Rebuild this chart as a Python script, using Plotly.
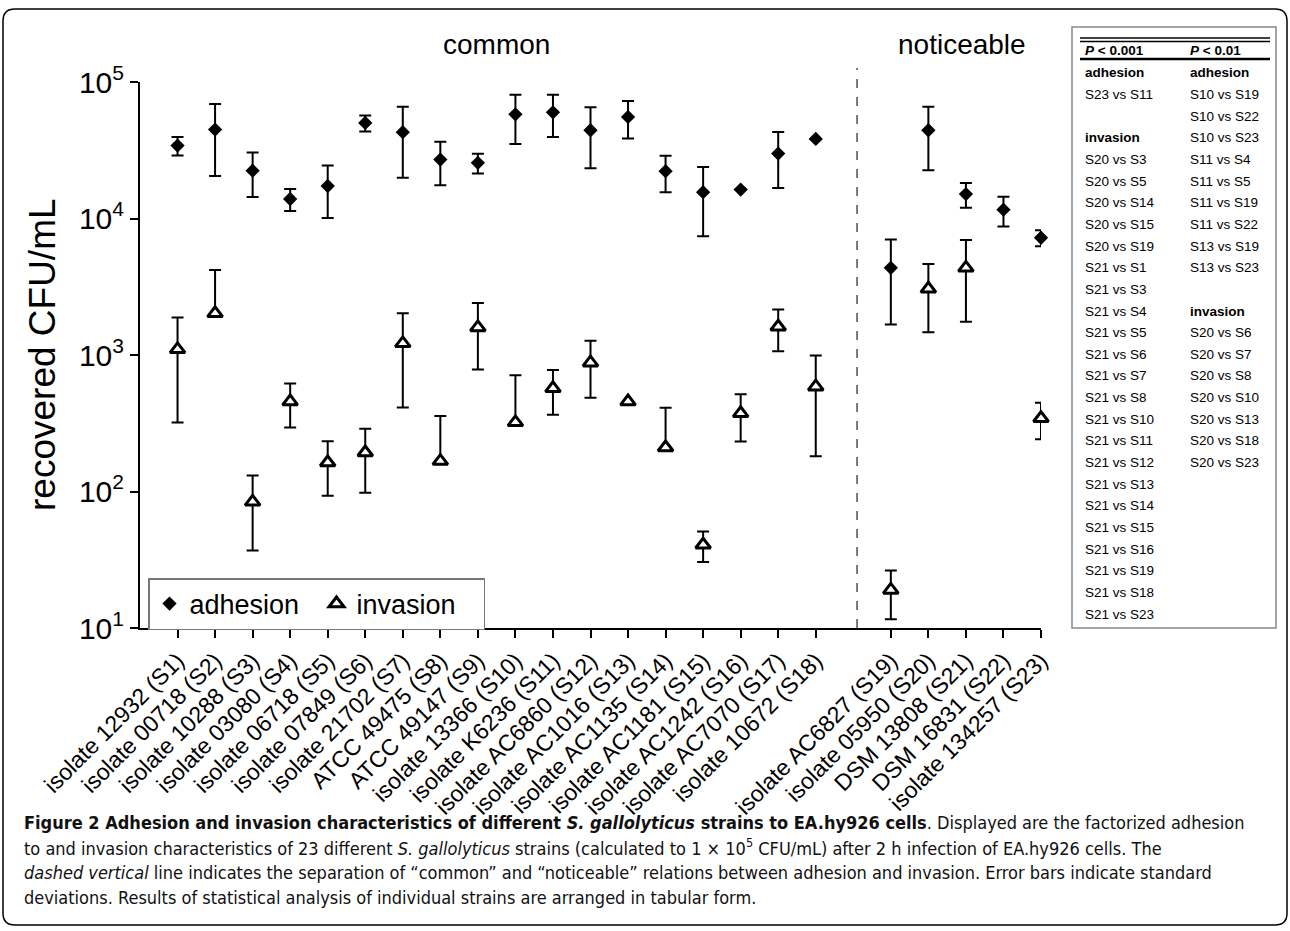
import plotly.graph_objects as go

W, H = 1290, 931

strains = ["isolate 12932 (S1)", "isolate 00718 (S2)", "isolate 10288 (S3)", "isolate 03080 (S4)",
           "isolate 06718 (S5)", "isolate 07849 (S6)", "isolate 21702 (S7)", "ATCC 49475 (S8)",
           "ATCC 49147 (S9)", "isolate 13366 (S10)", "isolate K6236 (S11)", "isolate AC6860 (S12)",
           "isolate AC1016 (S13)", "isolate AC1135 (S14)", "isolate AC1181 (S15)", "isolate AC1242 (S16)",
           "isolate AC7070 (S17)", "isolate 10672 (S18)",
           "isolate AC6827 (S19)", "isolate 05950 (S20)", "DSM 13808 (S21)", "DSM 16831 (S22)",
           "isolate 134257 (S23)"]
group = ["common"] * 18 + ["noticeable"] * 5

adhesion_mean = [34200, 44800, 22400, 13900, 17300, 50100, 42900, 27000, 25600, 58000, 60000, 44300,
                 55500, 22200, 15600, 16300, 29900, 38300, 4350, 44300, 15100, 11600, 7230]
adhesion_sd = [5300, 24300, 8000, 2550, 7200, 6800, 23000, 9500, 4200, 22800, 20500, 21000,
               17000, 6600, 8200, 0, 13200, 0, 2680, 21700, 3100, 2850, 980]

invasion_mean = [1100, 2020, 84, 456, 163, 193, 1217, 167, 1592, 321, 570, 879,
                 456, 210, 40.7, 374, 1611, 586, 19.0, 3055, 4350, None, 344]
invasion_sd = [780, 2180, 47, 162, 70, 95, 805, 191, 810, 389, 205, 393,
               0, 200, 10.3, 142, 547, 405, 7.4, 1590, 2600, None, 103]

ytick_vals = [10, 100, 1000, 10000, 100000]
ytick_text = ["10<sup>1</sup>", "10<sup>2</sup>", "10<sup>3</sup>", "10<sup>4</sup>", "10<sup>5</sup>"]

p001_rows = ["<b>adhesion</b>", "S23 vs S11", "", "<b>invasion</b>", "S20 vs S3", "S20 vs S5", "S20 vs S14",
             "S20 vs S15", "S20 vs S19", "S21 vs S1", "S21 vs S3", "S21 vs S4", "S21 vs S5", "S21 vs S6",
             "S21 vs S7", "S21 vs S8", "S21 vs S10", "S21 vs S11", "S21 vs S12", "S21 vs S13", "S21 vs S14",
             "S21 vs S15", "S21 vs S16", "S21 vs S19", "S21 vs S18", "S21 vs S23"]
p01_rows = ["<b>adhesion</b>", "S10 vs S19", "S10 vs S22", "S10 vs S23", "S11 vs S4", "S11 vs S5",
            "S11 vs S19", "S11 vs S22", "S13 vs S19", "S13 vs S23", "", "<b>invasion</b>", "S20 vs S6",
            "S20 vs S7", "S20 vs S8", "S20 vs S10", "S20 vs S13", "S20 vs S18", "S20 vs S23"]

caption_lines = [
    "<b>Figure 2 Adhesion and invasion characteristics of different <i>S. gallolyticus</i> strains to EA.hy926 cells</b>. Displayed are the factorized adhesion",
    "to and invasion characteristics of 23 different <i>S. gallolyticus</i> strains (calculated to 1 × 10<sup>5</sup> CFU/mL) after 2 h infection of EA.hy926 cells. The",
    "<i>dashed vertical</i> line indicates the separation of “common” and “noticeable” relations between adhesion and invasion. Error bars indicate standard",
    "deviations. Results of statistical analysis of individual strains are arranged in tabular form.",
]

# x positions: common strains consecutive, one empty slot before the noticeable group
xpos = []
pos = 0
for i, g in enumerate(group):
    if i > 0 and g != group[i - 1]:
        pos += 1
    xpos.append(pos)
    pos += 1
sep_x = (xpos[17] + xpos[18]) / 2 + 0.1


def px(x):
    return x / W


def py(y):
    return 1 - y / H


def lower(m, s):
    if m is None or s is None:
        return None
    return s if m - s > 10 else 0


FONT = "Liberation Sans, Arial, Helvetica, sans-serif"

fig = go.Figure()
fig.add_trace(go.Scatter(
    x=xpos, y=adhesion_mean, mode="markers", name="adhesion", cliponaxis=False,
    marker=dict(symbol="diamond", size=11, color="black"),
    error_y=dict(type="data", symmetric=False, array=adhesion_sd,
                 arrayminus=[lower(m, s) for m, s in zip(adhesion_mean, adhesion_sd)],
                 color="black", thickness=2, width=6),
))
fig.add_trace(go.Scatter(
    x=xpos, y=invasion_mean, mode="markers", name="invasion", cliponaxis=False,
    marker=dict(symbol="triangle-up", size=13, color="white", line=dict(color="black", width=3)),
    error_y=dict(type="data", symmetric=False, array=invasion_sd,
                 arrayminus=[lower(m, s) for m, s in zip(invasion_mean, invasion_sd)],
                 color="black", thickness=2, width=6),
))

fig.update_layout(
    width=W, height=H, margin=dict(l=0, r=0, t=0, b=0),
    paper_bgcolor="white", plot_bgcolor="white",
    font=dict(family=FONT, color="black"),
    showlegend=True,
    legend=dict(orientation="h", x=px(148), y=py(578), xanchor="left", yanchor="top",
                bordercolor="#777", borderwidth=1.5, bgcolor="white",
                font=dict(size=27, family=FONT), itemwidth=30, entrywidth=122),
    xaxis=dict(domain=[px(140), px(1041)], range=[-1, xpos[-1]], tickvals=xpos, ticktext=strains,
               tickangle=-45, ticks="outside", ticklen=8, tickwidth=1.5, tickcolor="black",
               showline=True, linecolor="black", linewidth=2, showgrid=False, zeroline=False,
               tickfont=dict(size=23, family=FONT), automargin=False, fixedrange=True),
    yaxis=dict(type="log", domain=[py(628), py(82)], range=[1, 5], tickvals=ytick_vals,
               ticktext=ytick_text, ticks="outside", ticklen=8, tickwidth=1.5, tickcolor="black",
               showline=True, linecolor="black", linewidth=2, showgrid=False, zeroline=False,
               tickfont=dict(size=30, family=FONT), automargin=False, fixedrange=True),
)

# dashed separator
fig.add_shape(type="line", xref="x", yref="paper", x0=sep_x, x1=sep_x, y0=py(628), y1=py(68),
              line=dict(color="#333", width=1.3, dash="dash"))


def note(text, x, y, size, xanchor="center", **kw):
    fig.add_annotation(text=text, x=px(x), y=py(y), xref="paper", yref="paper",
                       xanchor=xanchor, yanchor="middle", showarrow=False,
                       font=dict(size=size, family=kw.pop("family", FONT), color=kw.pop("color", "black")),
                       **kw)


# group titles and y title
note("common", 497, 44, 28)
note("noticeable", 962, 45, 28)
note("recovered CFU/mL", 42, 355, 37, textangle=-90)


# outer rounded frame
def rounded(x0, y0, x1, y1, r):
    return (f"M {px(x0 + r)},{py(y0)} L {px(x1 - r)},{py(y0)} Q {px(x1)},{py(y0)} {px(x1)},{py(y0 + r)} "
            f"L {px(x1)},{py(y1 - r)} Q {px(x1)},{py(y1)} {px(x1 - r)},{py(y1)} "
            f"L {px(x0 + r)},{py(y1)} Q {px(x0)},{py(y1)} {px(x0)},{py(y1 - r)} "
            f"L {px(x0)},{py(y0 + r)} Q {px(x0)},{py(y0)} {px(x0 + r)},{py(y0)} Z")


fig.add_shape(type="path", xref="paper", yref="paper", path=rounded(3, 9, 1287, 925, 12),
              line=dict(color="black", width=1.5))

# statistics table
fig.add_shape(type="rect", xref="paper", yref="paper", x0=px(1072), x1=px(1276), y0=py(628), y1=py(27),
              line=dict(color="#888", width=1.5))
for yy, lw in [(38, 1.6), (41.5, 1.6), (59, 2.6)]:
    fig.add_shape(type="line", xref="paper", yref="paper", x0=px(1080), x1=px(1270), y0=py(yy), y1=py(yy),
                  line=dict(color="black", width=lw))
note("<b><i>P</i> < 0.001</b>", 1083, 50, 13.5, xanchor="left")
note("<b><i>P</i> < 0.01</b>", 1188, 50, 13.5, xanchor="left")
row0, step = 73, 21.64
for col_x, rows in [(1083, p001_rows), (1188, p01_rows)]:
    for k, t in enumerate(rows):
        if t:
            note(t, col_x, row0 + k * step, 13.5, xanchor="left")

# caption
CFONT = "Liberation Sans Narrow, DejaVu Sans Condensed, Arial Narrow, sans-serif"
for k, t in enumerate(caption_lines):
    note(t, 22, 822 + k * 25.3, 18, xanchor="left", family=CFONT, color="#111")

fig.write_html("out.html", post_script="document.body.style.margin='0px';",
               config={"displayModeBar": False})
